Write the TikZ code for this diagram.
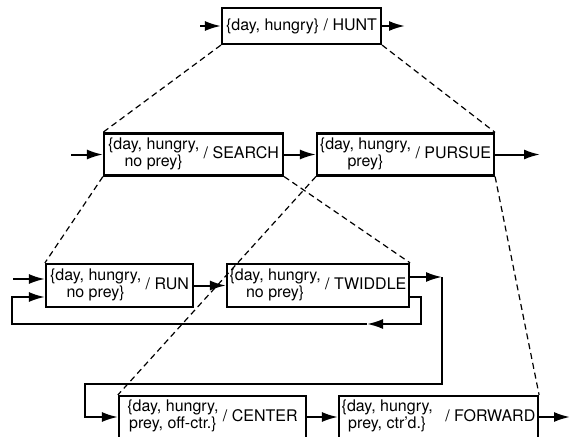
\documentclass[tikz,border=0pt]{standalone}
\usepackage{fontspec}
\setmainfont{TeX Gyre Heros}
\usepackage{tikz}
\usetikzlibrary{arrows.meta}
\tikzset{
  font={\fontsize{16pt}{17pt}\selectfont},
  statebox/.style={draw, line width=2.2pt, inner sep=2pt, minimum height=42pt},
  arr/.style={line width=2pt, -{Latex[length=16pt,width=10pt]}},
  sub/.style={dashed, line width=1.2pt, dash pattern=on 6pt off 4pt}}
\newcommand{\cond}[2]{\begin{tabular}{@{}c@{}}#1\\#2\end{tabular}}

\begin{document}
\begin{tikzpicture}[x=1pt,y=1pt]
\useasboundingbox (0,0) rectangle (572,-436);
% top level
\node [statebox, minimum width=159pt, minimum height=36pt] (hunt) at (301.5,-26) {\{day, hungry\} / HUNT};
% second level
\node [statebox, minimum width=179pt] (search) at (193.5,-154.5) {\cond{\{day, hungry,}{no prey\}} / SEARCH};
\node [statebox, minimum width=177pt] (pursue) at (405.5,-154.5) {\cond{\{day, hungry,}{prey\}} / PURSUE};
% third level
\node [statebox, minimum width=147pt, minimum height=43pt] (run) at (119.5,-285.5) {\cond{\{day, hungry,}{no prey\}} / RUN};
\node [statebox, minimum width=182pt, minimum height=43pt] (twiddle) at (318,-285.5) {\cond{\{day, hungry,}{no prey\}} / TWIDDLE};
\node [statebox, minimum width=187pt] (center) at (212.5,-417) {\cond{\{day, hungry,}{prey, off-ctr.\}} / CENTER};
\node [statebox, minimum width=199pt] (forward) at (438.5,-417) {\cond{\{day, hungry,}{prey, ctr'd.\}} \enspace/ FORWARD};
% free ends
\coordinate (huntin) at (200,-26);
\coordinate (huntout) at (405,-26);
\coordinate (searchin) at (71,-154.5);
\coordinate (pursueout) at (540,-154.5);
\coordinate (runin) at (13,-279);
\coordinate (forwardout) at (570,-417);
\coordinate (tw) at (442,-277);
% transitions
\draw [arr] (huntin) -- (hunt);
\draw [arr] (hunt) -- (huntout);
\draw [arr] (searchin) -- (search);
\draw [arr] (search) -- (pursue);
\draw [arr] (pursue) -- (pursueout);
\draw [arr] (runin) -- (runin -| run.west);
\draw [arr] (run) -- (twiddle);
\draw [arr] (twiddle.east |- tw) -- (tw);
\draw [arr] (tw) -- (442,-384) -- (85,-384) -- (85,-417) -- (center);
\draw [arr] (center) -- (forward);
\draw [arr] (forward) -- (forwardout);
% loop back to run
\draw [arr] (twiddle.east |- 0,-297) -- (421,-297) -- (421,-324) -- (367,-324);
\draw [arr] (367,-324) -- (12,-324) -- (12,-297) -- (run.west |- 0,-297);
% decomposition
\draw [sub] (hunt.south west) -- (search.north west);
\draw [sub] (hunt.south east) -- (pursue.north east);
\draw [sub] (search.south west) -- (run.north west);
\draw [sub] (search.south east) -- (twiddle.north east);
\draw [sub] (pursue.south west) -- (center.north west);
\draw [sub] (pursue.south east) -- (forward.north east);
\end{tikzpicture}
\end{document}
